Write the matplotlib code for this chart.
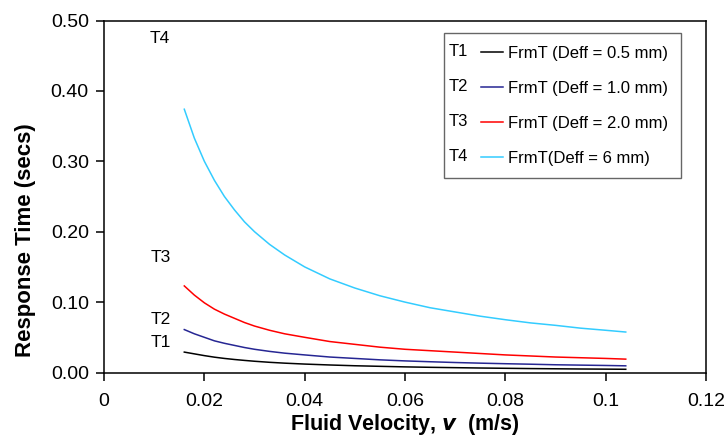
import matplotlib
matplotlib.use('Agg')
import matplotlib.pyplot as plt
import matplotlib.text as mtext
from matplotlib.lines import Line2D
from matplotlib.ticker import FixedLocator, FuncFormatter

plt.rcParams['font.family'] = ['Liberation Sans', 'DejaVu Sans']

# fluid velocity (m/s) sampled along the curves
velocity = [0.016, 0.018, 0.020, 0.022, 0.024, 0.026, 0.028, 0.030,
            0.033, 0.036, 0.040, 0.045, 0.050, 0.055, 0.060, 0.065,
            0.070, 0.075, 0.080, 0.085, 0.090, 0.095, 0.100, 0.104]

# response times (secs)
t1_values = [0.0290, 0.0265, 0.0240, 0.0218, 0.0200, 0.0185, 0.0172, 0.0160,
             0.0145, 0.0133, 0.0120, 0.0107, 0.0096, 0.0088, 0.0080, 0.0074,
             0.0069, 0.0064, 0.0060, 0.0056, 0.0053, 0.0050, 0.0048, 0.0046]
t2_values = [0.061, 0.055, 0.050, 0.045, 0.0415, 0.0385, 0.0355, 0.033,
             0.030, 0.0275, 0.025, 0.022, 0.020, 0.018, 0.0165, 0.0153,
             0.0142, 0.0133, 0.0125, 0.0118, 0.011, 0.0105, 0.010, 0.0095]
t3_values = [0.123, 0.110, 0.099, 0.090, 0.083, 0.077, 0.071, 0.066,
             0.060, 0.055, 0.050, 0.044, 0.040, 0.036, 0.033, 0.031,
             0.029, 0.027, 0.025, 0.0235, 0.022, 0.021, 0.020, 0.019]
t4_values = [0.374, 0.333, 0.300, 0.273, 0.250, 0.231, 0.214, 0.200,
             0.182, 0.167, 0.150, 0.133, 0.120, 0.109, 0.100, 0.092,
             0.086, 0.080, 0.075, 0.0705, 0.067, 0.063, 0.060, 0.0575]

tags = ['T1', 'T2', 'T3', 'T4']
labels = ['FrmT (Deff = 0.5 mm)', 'FrmT (Deff = 1.0 mm)',
          'FrmT (Deff = 2.0 mm)', 'FrmT(Deff = 6 mm)']
line_colors = ['#000000', '#262693', '#ff0000', '#33ccff']

# where the tag labels sit next to the curves
tag_x = [0.0114, 0.0114, 0.0114, 0.0112]
tag_y = [0.042, 0.0746, 0.163, 0.4746]

x_ticks = [0, 0.02, 0.04, 0.06, 0.08, 0.1, 0.12]
y_ticks = [0.0, 0.1, 0.2, 0.3, 0.4, 0.5]


class TagLineHandler:
    # legend handle that puts the series tag in front of the line sample
    def __init__(self, tag):
        self.tag = tag

    def legend_artist(self, legend, orig_handle, fontsize, handlebox):
        x0, y0 = handlebox.xdescent, handlebox.ydescent
        w, h = handlebox.width, handlebox.height
        t = mtext.Text(x0 - 6, y0 + h / 2, self.tag, fontsize=fontsize,
                       va='center', ha='left', family=['Liberation Sans'])
        ln = Line2D([x0 + w * 0.52, x0 + w], [y0 + h / 2, y0 + h / 2],
                    color=orig_handle.get_color(), linewidth=1.1)
        handlebox.add_artist(t)
        handlebox.add_artist(ln)
        return ln


fig = plt.figure(figsize=(7.28, 4.44), dpi=100)
ax = fig.add_axes([0.1429, 0.161, 0.8269, 0.7928])

series = [t1_values, t2_values, t3_values, t4_values]
handles = []
for i in range(len(series)):
    h, = ax.plot(velocity, series[i], color=line_colors[i], linewidth=1.1)
    handles.append(h)

for i in range(len(tags)):
    ax.text(tag_x[i], tag_y[i], tags[i], fontsize=12.5, ha='center', va='center')

ax.set_xlim(0, 0.12)
ax.set_ylim(0, 0.5)
ax.xaxis.set_major_locator(FixedLocator(x_ticks))
ax.yaxis.set_major_locator(FixedLocator(y_ticks))
ax.xaxis.set_major_formatter(FuncFormatter(lambda v, p: '%g' % v))
ax.yaxis.set_major_formatter(FuncFormatter(lambda v, p: '%.2f' % v))
ax.tick_params(direction='out', length=6, width=1.1, labelsize=14,
               colors='black', pad=5)
ax.tick_params(axis='x', pad=9)
for s in ax.spines.values():
    s.set_linewidth(1.1)

ax.set_xlabel('Fluid Velocity, $\\boldsymbol{v}$  (m/s)', fontsize=15.5,
              fontweight='bold', labelpad=1)
ax.set_ylabel('Response Time (secs)', fontsize=16, fontweight='bold')
ax.yaxis.set_label_coords(-0.113, 0.376)

handler_map = {}
for i in range(len(handles)):
    handler_map[handles[i]] = TagLineHandler(tags[i])

leg = ax.legend(handles, labels, handler_map=handler_map, loc='upper left',
                bbox_to_anchor=(0.565, 0.9645), borderaxespad=0,
                fontsize=12, handlelength=2.8, handletextpad=0.3,
                labelspacing=1.2, borderpad=0.75, fancybox=False,
                framealpha=1, edgecolor='#666666')
leg.get_frame().set_linewidth(1.0)

fig.savefig('out.png', dpi=100)
